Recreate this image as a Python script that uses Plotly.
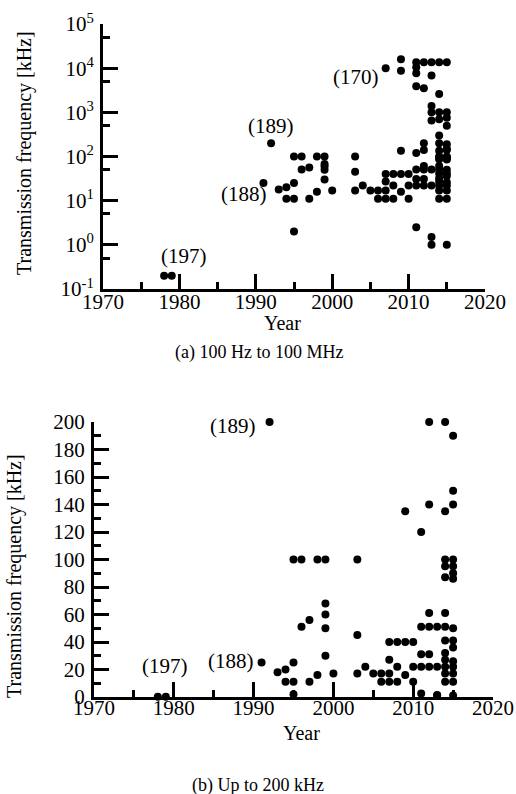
import math
import plotly.graph_objects as go

# ---------------- data (year, transmission frequency in kHz) ----------------
years = [
    1978, 1979,
    1991, 1992, 1993,
    1994, 1994,
    1995, 1995, 1995, 1995,
    1996, 1996,
    1997, 1997,
    1998, 1998,
    1999, 1999, 1999, 1999, 1999,
    2000,
    2003, 2003, 2003,
    2004, 2005,
    2006, 2006,
    2007, 2007, 2007, 2007, 2007,
    2008, 2008, 2008,
    2009, 2009, 2009, 2009, 2009,
    2010, 2010, 2010,
    2011, 2011, 2011, 2011, 2011, 2011, 2011, 2011, 2011,
    2012, 2012, 2012, 2012, 2012, 2012, 2012, 2012,
    2013, 2013, 2013, 2013, 2013, 2013, 2013, 2013, 2013,
    2014, 2014, 2014, 2014, 2014, 2014, 2014, 2014, 2014, 2014, 2014, 2014, 2014,
    2014, 2014, 2014, 2014, 2014,
    2015, 2015, 2015, 2015, 2015, 2015, 2015, 2015, 2015, 2015, 2015, 2015,
    2015, 2015, 2015, 2015, 2015, 2015, 2015,
]
freq_khz = [
    0.2, 0.2,
    25, 200, 18,
    20, 11,
    100, 25, 11, 2,
    100, 51,
    56, 11,
    100, 16,
    100, 68, 60, 50, 30,
    17,
    100, 45, 17,
    22, 17,
    17, 11,
    10000, 40, 27, 17, 11,
    40, 22, 11,
    16000, 8700, 135, 40, 16,
    40, 22, 11,
    13560, 10500, 7700, 3900, 120, 51, 31, 22, 2.5,
    13560, 3500, 200, 140, 61, 51, 31, 22,
    13560, 6780, 1400, 1000, 650, 51, 22, 1.5, 1,
    13560, 2600, 1000, 700, 300, 200, 135, 100, 95, 87, 61, 51, 41,
    32, 27, 22, 17, 11,
    13560, 1000, 750, 500, 190, 150, 140, 100, 95, 90, 86, 50,
    41, 36, 26, 22, 17, 11, 1,
]

# labelled references: (text, year, kHz)
labels_top = [("(170)", 2007, 10000), ("(189)", 1992, 200), ("(188)", 1991, 25), ("(197)", 1979, 0.2)]
labels_bottom = [("(189)", 1992, 200), ("(188)", 1991, 25), ("(197)", 1978, 0.2)]

x_major = [1970, 1980, 1990, 2000, 2010, 2020]
x_minor = [1975, 1985, 1995, 2005, 2015]
y_log_major = [0.1, 1, 10, 100, 1000, 10000, 100000]
y_log_text = ["10<sup>-1</sup>", "10<sup>0</sup>", "10<sup>1</sup>", "10<sup>2</sup>",
              "10<sup>3</sup>", "10<sup>4</sup>", "10<sup>5</sup>"]
y_log_minor = [0.5, 5, 50, 500, 5000, 50000]
y_lin_major = list(range(0, 201, 20))
y_lin_minor = list(range(10, 200, 20))

caption_a = "(a) 100 Hz to 100 MHz"
caption_b = "(b) Up to 200 kHz"
y_title = "Transmission frequency [kHz]"
x_title = "Year"

# ---------------- figure ----------------
W, H = 516, 794
FONT = "Liberation Serif, Times New Roman, serif"

fig = go.Figure()

fig.add_trace(go.Scatter(
    x=years, y=freq_khz, mode="markers", xaxis="x", yaxis="y",
    marker=dict(size=8, color="black"), cliponaxis=False, showlegend=False,
))
sel = [(x, y) for x, y in zip(years, freq_khz) if y <= 200]
fig.add_trace(go.Scatter(
    x=[s[0] for s in sel], y=[s[1] for s in sel], mode="markers",
    xaxis="x2", yaxis="y2",
    marker=dict(size=8, color="black"), cliponaxis=False, showlegend=False,
))


def px_x(p):
    return p / W


def px_y(p):
    return 1 - p / H


tickfont = dict(family=FONT, size=21, color="black")
axis_common = dict(
    showline=True, linewidth=3, linecolor="black", showgrid=False, zeroline=False,
    ticks="inside", ticklen=15, tickwidth=3, tickcolor="black", tickfont=tickfont,
    automargin=False,
)
minor_common = dict(ticks="inside", ticklen=7, tickwidth=3, tickcolor="black", tickmode="array")

fig.update_layout(
    width=W, height=H,
    margin=dict(l=0, r=0, t=0, b=0, pad=0),
    paper_bgcolor="white", plot_bgcolor="white",
    font=dict(family=FONT, color="black"),
    xaxis=dict(domain=[px_x(103), px_x(485)], range=[1970, 2020], anchor="y",
               tickmode="array", tickvals=x_major,
               minor=dict(tickvals=x_minor, **minor_common),
               ticklabelstandoff=-8,
               **axis_common),
    yaxis=dict(domain=[px_y(289), px_y(24)], type="log", range=[-1, 5], anchor="x",
               tickmode="array", tickvals=y_log_major, ticktext=y_log_text,
               minor=dict(tickvals=y_log_minor, **minor_common),
               ticklabelstandoff=2,
               **axis_common),
    xaxis2=dict(domain=[px_x(94), px_x(493)], range=[1970, 2020], anchor="y2",
                tickmode="array", tickvals=x_major,
                minor=dict(tickvals=x_minor, **minor_common),
                ticklabelstandoff=-10,
                **axis_common),
    yaxis2=dict(domain=[px_y(697), px_y(422)], range=[0, 200], anchor="x2",
                tickmode="array", tickvals=y_lin_major,
                minor=dict(tickvals=y_lin_minor, **minor_common),
                ticklabelstandoff=2,
                **axis_common),
)

ann = []
lab_font = dict(family=FONT, size=21, color="black")
shifts_top = {
    "(170)": dict(xanchor="right", yanchor="middle", xshift=-5, yshift=-9),
    "(189)": dict(xanchor="center", yanchor="middle", xshift=0, yshift=17),
    "(188)": dict(xanchor="right", yanchor="middle", xshift=6, yshift=-11),
    "(197)": dict(xanchor="center", yanchor="middle", xshift=12, yshift=20),
}
for t, x, y in labels_top:
    ann.append(dict(text=t, x=x, y=math.log10(y), xref="x", yref="y", showarrow=False,
                    font=lab_font, **shifts_top[t]))
shifts_bot = {
    "(189)": dict(xanchor="right", yanchor="middle", xshift=-12, yshift=-4),
    "(188)": dict(xanchor="right", yanchor="middle", xshift=-6, yshift=2),
    "(197)": dict(xanchor="center", yanchor="middle", xshift=7, yshift=31),
}
for t, x, y in labels_bottom:
    ann.append(dict(text=t, x=x, y=y, xref="x2", yref="y2", showarrow=False,
                    font=lab_font, **shifts_bot[t]))

title_font = dict(family=FONT, size=20, color="black")
cap_font = dict(family=FONT, size=18, color="black")
ann += [
    dict(text=y_title, x=px_x(24), y=px_y(153), xref="paper", yref="paper", showarrow=False,
         textangle=-90, xanchor="center", yanchor="middle", font=title_font),
    dict(text=x_title, x=px_x(282), y=px_y(323), xref="paper", yref="paper", showarrow=False,
         xanchor="center", yanchor="middle", font=title_font),
    dict(text=y_title, x=px_x(14), y=px_y(576), xref="paper", yref="paper", showarrow=False,
         textangle=-90, xanchor="center", yanchor="middle", font=title_font),
    dict(text=x_title, x=px_x(301), y=px_y(733), xref="paper", yref="paper", showarrow=False,
         xanchor="center", yanchor="middle", font=title_font),
    dict(text=caption_a, x=px_x(259), y=px_y(352), xref="paper", yref="paper", showarrow=False,
         xanchor="center", yanchor="middle", font=cap_font),
    dict(text=caption_b, x=px_x(258), y=px_y(785), xref="paper", yref="paper", showarrow=False,
         xanchor="center", yanchor="middle", font=cap_font),
]
fig.update_layout(annotations=ann)

fig.write_html("out.html")
